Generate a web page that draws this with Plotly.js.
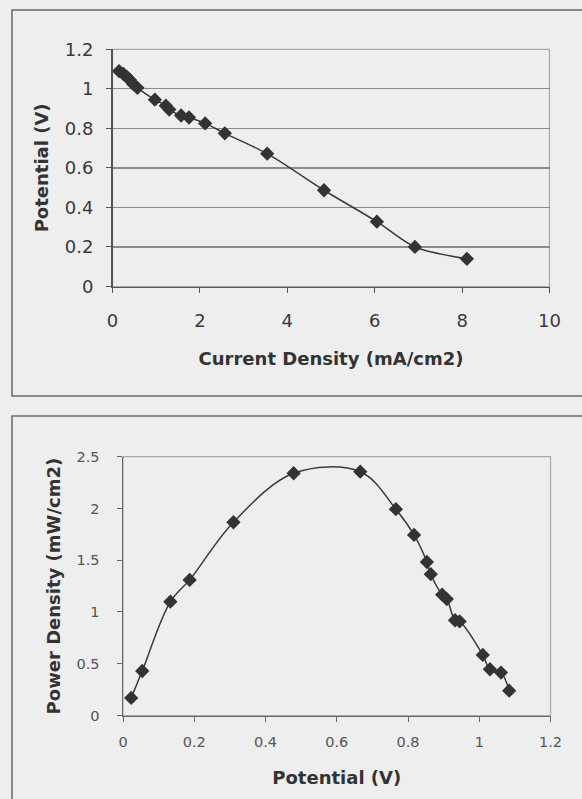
<!DOCTYPE html>
<html>
<head>
<meta charset="utf-8">
<script src="https://cdn.plot.ly/plotly-3.0.1.min.js"></script>
<style>
html,body{margin:0;padding:0;background:#eeeeee;}
#chart{width:582px;height:799px;}
</style>
</head>
<body>
<div id="chart"></div>
<script>
// Top chart: polarization curve
const currentDensity = [0.15, 0.25, 0.33, 0.40, 0.47, 0.57, 0.97, 1.22, 1.30, 1.57, 1.75, 2.12, 2.57, 3.54, 4.84, 6.05, 6.92, 8.11];
const potentialTop   = [1.09, 1.075, 1.06, 1.045, 1.025, 1.005, 0.945, 0.915, 0.895, 0.865, 0.855, 0.825, 0.775, 0.672, 0.487, 0.328, 0.20, 0.14];

// Bottom chart: power density curve
const potentialBottom = [0.023, 0.054, 0.133, 0.187, 0.31, 0.479, 0.666, 0.766, 0.817, 0.853, 0.864, 0.896, 0.909, 0.932, 0.945, 1.01, 1.03, 1.061, 1.084];
const powerDensity    = [0.17, 0.43, 1.10, 1.31, 1.867, 2.34, 2.355, 1.993, 1.744, 1.483, 1.365, 1.167, 1.125, 0.92, 0.909, 0.585, 0.447, 0.415, 0.24];

const topXTitle = 'Current Density (mA/cm2)';
const topYTitle = 'Potential (V)';
const botXTitle = 'Potential (V)';
const botYTitle = 'Power Density (mW/cm2)';

const W = 582, H = 799;
const px = v => v / W;
const py = v => 1 - v / H;

const markerStyle = {symbol: 'diamond', size: 11, color: '#333333', line: {width: 0}};
const lineStyle = {color: '#3a3a3a', width: 1.5, shape: 'spline', smoothing: 0.8};

const traces = [
  {x: currentDensity, y: potentialTop, xaxis: 'x', yaxis: 'y', mode: 'lines+markers',
   marker: markerStyle, line: lineStyle, showlegend: false, hoverinfo: 'x+y'},
  {x: potentialBottom, y: powerDensity, xaxis: 'x2', yaxis: 'y2', mode: 'lines+markers',
   marker: markerStyle, line: Object.assign({}, lineStyle, {smoothing: 1}), showlegend: false, hoverinfo: 'x+y'}
];

const tickFontTop = {family: 'DejaVu Sans', size: 18, color: '#3a3a3a'};
const tickFontBot = {family: 'DejaVu Sans', size: 14.5, color: '#555555'};
const titleFont = {family: 'DejaVu Sans', size: 18, color: '#333333', weight: 'bold'};

const layout = {
  width: W, height: H,
  margin: {l: 0, r: 0, t: 0, b: 0},
  paper_bgcolor: '#eeeeee',
  plot_bgcolor: 'rgba(0,0,0,0)',
  showlegend: false,
  xaxis: {
    domain: [px(112.5), px(549.5)], anchor: 'y',
    range: [0, 10], dtick: 2, tick0: 0,
    showgrid: false, zeroline: false,
    showline: true, linecolor: '#555555', linewidth: 1.5,
    ticks: 'outside', ticklen: 5, tickcolor: '#555555',
    tickfont: tickFontTop, ticklabelstandoff: 12,
    title: {text: topXTitle, font: titleFont, standoff: 23}
  },
  yaxis: {
    domain: [py(286.5), py(49.3)], anchor: 'x',
    range: [0, 1.2], dtick: 0.2, tick0: 0,
    showgrid: true, gridcolor: '#8a8a8a', gridwidth: 1.2, zeroline: false,
    showline: true, linecolor: '#555555', linewidth: 1.5,
    ticks: 'outside', ticklen: 5, tickcolor: '#555555',
    tickfont: tickFontTop, ticklabelstandoff: 9,
    title: {text: topYTitle, font: titleFont, standoff: 11}
  },
  xaxis2: {
    domain: [px(123), px(550.5)], anchor: 'y2',
    range: [0, 1.2], dtick: 0.2, tick0: 0,
    showgrid: false, zeroline: false,
    showline: true, linecolor: '#666666', linewidth: 1.5,
    ticks: 'outside', ticklen: 5, tickcolor: '#666666',
    tickfont: tickFontBot, ticklabelstandoff: 8,
    title: {text: botXTitle, font: titleFont, standoff: 22}
  },
  yaxis2: {
    domain: [py(715.5), py(456.7)], anchor: 'x2',
    range: [0, 2.5], dtick: 0.5, tick0: 0,
    showgrid: false, zeroline: false,
    showline: true, linecolor: '#666666', linewidth: 1.5,
    ticks: 'outside', ticklen: 5, tickcolor: '#666666',
    tickfont: tickFontBot, ticklabelstandoff: 14,
    title: {text: botYTitle, font: titleFont, standoff: 11}
  },
  shapes: [
    // chart frames
    {type: 'rect', xref: 'paper', yref: 'paper', x0: px(12), x1: px(600), y0: py(396), y1: py(10),
     line: {color: '#6a6a6a', width: 1.5}, layer: 'below'},
    {type: 'rect', xref: 'paper', yref: 'paper', x0: px(12), x1: px(600), y0: py(820), y1: py(416),
     line: {color: '#6a6a6a', width: 1.5}, layer: 'below'},
    // plot area borders
    {type: 'rect', xref: 'x domain', yref: 'y domain', x0: 0, x1: 1, y0: 0, y1: 1,
     line: {color: '#a8a8a8', width: 1.2}, layer: 'below'},
    {type: 'rect', xref: 'x2 domain', yref: 'y2 domain', x0: 0, x1: 1, y0: 0, y1: 1,
     line: {color: '#a8a8a8', width: 1.2}, layer: 'below'}
  ]
};

Plotly.newPlot('chart', traces, layout, {staticPlot: true, displayModeBar: false});
</script>
</body>
</html>
